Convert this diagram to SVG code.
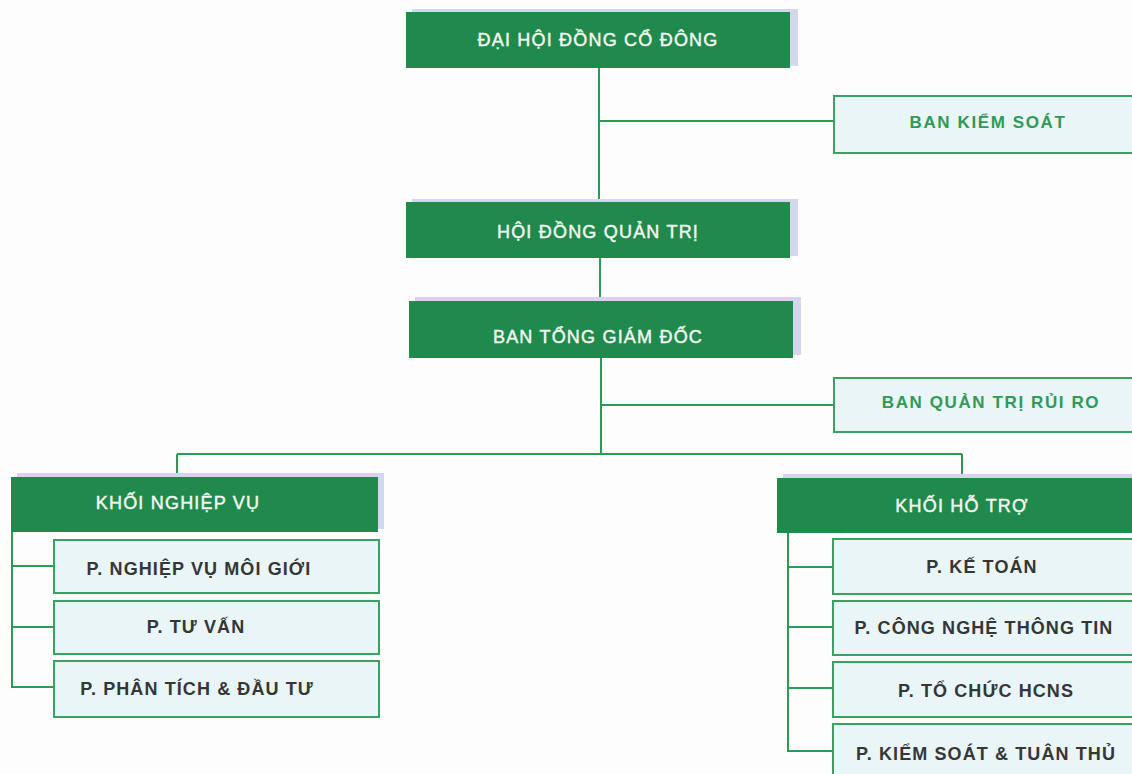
<svg xmlns="http://www.w3.org/2000/svg" width="1132" height="774" viewBox="0 0 1132 774">
<style>
.bg{fill:#fdfdfd}
.shadow{fill:#d3d6ec}
.dark{fill:#1f8a4b}
.light{fill:#e9f5f6;stroke:#3aa163;stroke-width:2}
.tw{font-family:"Liberation Sans",Arial,sans-serif;font-size:18px;fill:#f4f7f2;text-anchor:middle;letter-spacing:1.2px;stroke:#f4f7f2;stroke-width:0.45}
.tg{font-family:"Liberation Sans",Arial,sans-serif;font-size:17px;font-weight:bold;fill:#2f9a58;text-anchor:middle;letter-spacing:1.6px}
.td{font-family:"Liberation Sans",Arial,sans-serif;font-size:18px;font-weight:bold;fill:#353737;text-anchor:middle;letter-spacing:1.1px}
.conn{stroke:#2b9a52;stroke-width:2;fill:none}
</style>
<rect class="bg" x="0" y="0" width="1132" height="774"/>
<g id="connectors">
<path class="conn" d="M599 68V202"/>
<path class="conn" d="M599 121H834"/>
<path class="conn" d="M600 258V301"/>
<path class="conn" d="M601 358V454"/>
<path class="conn" d="M601 405H834"/>
<path class="conn" d="M177 454H962"/>
<path class="conn" d="M177 454V477"/>
<path class="conn" d="M962 454V478"/>
<path class="conn" d="M12 532V687H54M12 566H54M12 627H54"/>
<path class="conn" d="M788 533V751H833M788 567H833M788 627H833M788 688H833"/>
</g>
<g id="dai-hoi-dong-co-dong">
<rect class="shadow" x="412" y="9" width="386" height="57"/>
<rect class="dark" x="406" y="12" width="384" height="56"/>
<text class="tw" x="598" y="46">ĐẠI HỘI ĐỒNG CỔ ĐÔNG</text>
</g>
<g id="ban-kiem-soat">
<rect class="light" x="834" y="96" width="310" height="57"/>
<text class="tg" x="988" y="128">BAN KIỂM SOÁT</text>
</g>
<g id="hoi-dong-quan-tri">
<rect class="shadow" x="412" y="199" width="386" height="57"/>
<rect class="dark" x="406" y="202" width="384" height="56"/>
<text class="tw" x="598" y="238">HỘI ĐỒNG QUẢN TRỊ</text>
</g>
<g id="ban-tong-giam-doc">
<rect class="shadow" x="415" y="297" width="386" height="58"/>
<rect class="dark" x="409" y="301" width="384" height="57"/>
<text class="tw" x="598" y="343">BAN TỔNG GIÁM ĐỐC</text>
</g>
<g id="ban-quan-tri-rui-ro">
<rect class="light" x="834" y="378" width="310" height="54"/>
<text class="tg" x="991" y="408">BAN QUẢN TRỊ RỦI RO</text>
</g>
<g id="khoi-nghiep-vu">
<rect class="shadow" x="17" y="473" width="367" height="56"/>
<rect class="dark" x="11" y="477" width="367" height="55"/>
<text class="tw" x="178" y="509">KHỐI NGHIỆP VỤ</text>
</g>
<g id="p-nghiep-vu-moi-gioi">
<rect class="light" x="54" y="540" width="325" height="53"/>
<text class="td" x="199" y="575">P. NGHIỆP VỤ MÔI GIỚI</text>
</g>
<g id="p-tu-van">
<rect class="light" x="54" y="601" width="325" height="53"/>
<text class="td" x="196" y="633">P. TƯ VẤN</text>
</g>
<g id="p-phan-tich-dau-tu">
<rect class="light" x="54" y="661" width="325" height="56"/>
<text class="td" x="197" y="695">P. PHÂN TÍCH &amp; ĐẦU TƯ</text>
</g>
<g id="khoi-ho-tro">
<rect class="shadow" x="783" y="474" width="360" height="56"/>
<rect class="dark" x="777" y="478" width="360" height="55"/>
<text class="tw" x="962" y="512">KHỐI HỖ TRỢ</text>
</g>
<g id="p-ke-toan">
<rect class="light" x="833" y="539" width="310" height="55"/>
<text class="td" x="982" y="573">P. KẾ TOÁN</text>
</g>
<g id="p-cong-nghe-thong-tin">
<rect class="light" x="833" y="601" width="310" height="54"/>
<text class="td" x="984" y="634">P. CÔNG NGHỆ THÔNG TIN</text>
</g>
<g id="p-to-chuc-hcns">
<rect class="light" x="833" y="662" width="310" height="55"/>
<text class="td" x="986" y="697">P. TỔ CHỨC HCNS</text>
</g>
<g id="p-kiem-soat-tuan-thu">
<rect class="light" x="833" y="724" width="310" height="60"/>
<text class="td" x="986" y="760">P. KIỂM SOÁT &amp; TUÂN THỦ</text>
</g>
</svg>
